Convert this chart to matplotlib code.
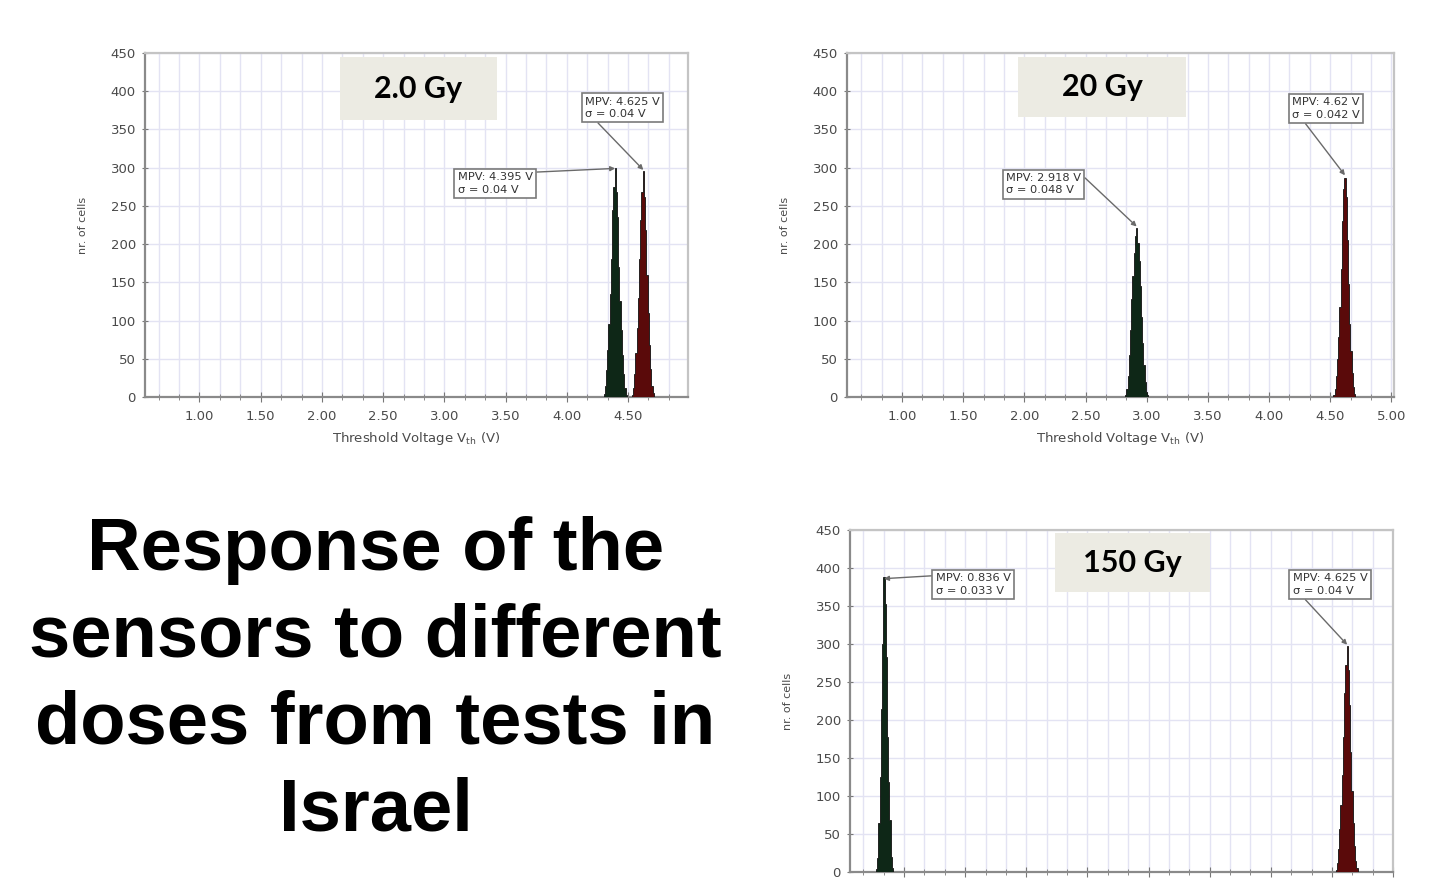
import numpy as np
import matplotlib.pyplot as plt
from matplotlib.patches import Rectangle
from matplotlib.ticker import MultipleLocator

# histogram bin width (V)
BIN_W = 0.01

# fitted most probable values and widths (V): [irradiated, reference]
mpv_2gy = [4.395, 4.625]
sigma_2gy = [0.04, 0.04]
mpv_20gy = [2.918, 4.62]
sigma_20gy = [0.048, 0.042]
mpv_150gy = [0.836, 4.625]
sigma_150gy = [0.033, 0.04]

# number of cells per 10 mV bin
irr_2gy = [4, 14, 35, 62, 95, 135, 180, 245, 275, 300, 268, 235, 170, 125, 88, 55, 30, 12, 3]
ref_2gy = [3, 12, 30, 58, 90, 130, 180, 232, 268, 295, 262, 218, 160, 110, 68, 36, 15, 5]
irr_20gy = [3, 10, 28, 55, 88, 128, 158, 188, 210, 221, 202, 178, 145, 105, 70, 42, 20, 7, 2]
ref_20gy = [3, 11, 28, 50, 78, 118, 168, 230, 272, 287, 262, 205, 148, 96, 60, 32, 13, 4]
irr_150gy = [4, 18, 65, 125, 215, 300, 388, 352, 283, 178, 118, 68, 20, 5]
ref_150gy = [3, 12, 30, 56, 88, 128, 178, 236, 272, 297, 266, 220, 158, 106, 64, 34, 15, 5]

doses = ['2.0 Gy', '20 Gy', '150 Gy']

IRR_COLOR = '#0e2717'
REF_COLOR = '#5a0a0a'
GRID_COLOR = '#e3e3f3'
TEXT_COLOR = '#4a4a4a'


def bin_edges(counts, mpv):
    # centre the highest bin on the fitted MPV
    peak = int(np.argmax(counts))
    return mpv - BIN_W / 2 + (np.arange(len(counts) + 1) - peak) * BIN_W


def draw_panel(ax, xlim, hists, notes, dose, dose_box, show_xlabels=True):
    ax.set_xlim(*xlim)
    ax.set_ylim(0, 450)

    ax.xaxis.set_major_locator(MultipleLocator(0.5))
    ax.xaxis.set_minor_locator(MultipleLocator(1 / 6))
    ax.yaxis.set_major_locator(MultipleLocator(50))
    ax.xaxis.set_major_formatter(lambda v, p: f'{v:.2f}')
    ax.grid(True, which='both', axis='x', color=GRID_COLOR, lw=1)
    ax.grid(True, which='major', axis='y', color=GRID_COLOR, lw=1)
    ax.set_axisbelow(True)

    ax.tick_params(axis='both', which='both', colors='#777', labelcolor=TEXT_COLOR,
                   labelsize=9.5, direction='inout')
    ax.tick_params(axis='x', which='major', length=7, pad=6)
    ax.tick_params(axis='x', which='minor', length=4)
    ax.tick_params(axis='y', which='major', length=5, pad=4)
    for side in ['left', 'bottom']:
        ax.spines[side].set_color('#8a8a8a')
        ax.spines[side].set_linewidth(1.6)
    for side in ['top', 'right']:
        ax.spines[side].set_color('#c4c4c4')
        ax.spines[side].set_linewidth(1.6)

    ax.set_ylabel('nr. of cells', fontsize=8, color=TEXT_COLOR)
    ax.yaxis.set_label_coords(-0.105, 0.5)
    if show_xlabels:
        ax.set_xlabel('Threshold Voltage V$_{\\mathrm{th}}$ (V)', fontsize=9.5, color=TEXT_COLOR)
        ax.xaxis.set_label_coords(0.5, -0.095)
    else:
        ax.tick_params(axis='x', labelbottom=False)

    # dose tag
    x0, y0, x1, y1 = dose_box
    ax.add_patch(Rectangle((x0, y0), x1 - x0, y1 - y0, transform=ax.transAxes,
                           facecolor='#ecebe3', edgecolor='none', zorder=1))
    ax.text((x0 + x1) / 2, (y0 + y1) / 2, dose, transform=ax.transAxes,
            ha='center', va='center', fontsize=22, family='Lato', weight='bold',
            color='black', zorder=2)

    for (counts, mpv, color) in hists:
        ax.stairs(counts, bin_edges(counts, mpv), fill=True, facecolor=color,
                  edgecolor='#111111', lw=0.6, zorder=3)

    for (mpv, sigma, tip, txt_pos, relpos) in notes:
        ax.annotate(f'MPV: {mpv:g} V\n\u03c3 = {sigma:g} V', xy=(mpv, tip), xytext=txt_pos,
                    ha='left', va='top', fontsize=8.2, color='#333333', linespacing=1.3,
                    bbox=dict(boxstyle='square,pad=0.3', fc='white', ec='#7a7a7a', lw=1.2),
                    arrowprops=dict(arrowstyle='-|>', color='#6a6a6a', lw=1, mutation_scale=7,
                                    shrinkA=0, shrinkB=0, relpos=relpos),
                    zorder=4)


fig = plt.figure(figsize=(14.5, 8.83), dpi=100)

ax1 = fig.add_axes([0.1, 0.5504, 0.3745, 0.3896])
draw_panel(ax1, (0.555, 4.99),
           [(irr_2gy, mpv_2gy[0], IRR_COLOR), (ref_2gy, mpv_2gy[1], REF_COLOR)],
           [(mpv_2gy[0], sigma_2gy[0], 299, (3.11, 294), (1, 1)),
            (mpv_2gy[1], sigma_2gy[1], 297, (4.15, 393), (0.12, 0))],
           doses[0], (0.359, 0.805, 0.648, 0.988))

ax2 = fig.add_axes([0.5841, 0.5504, 0.3772, 0.3896])
draw_panel(ax2, (0.55, 5.02),
           [(irr_20gy, mpv_20gy[0], IRR_COLOR), (ref_20gy, mpv_20gy[1], REF_COLOR)],
           [(mpv_20gy[0], sigma_20gy[0], 223, (1.85, 293), (1, 0.95)),
            (mpv_20gy[1], sigma_20gy[1], 290, (4.19, 392), (0.15, 0))],
           doses[1], (0.3126, 0.814, 0.62, 0.988))

ax3 = fig.add_axes([0.5862, 0.01246, 0.3745, 0.3873])
draw_panel(ax3, (0.558, 5.0),
           [(irr_150gy, mpv_150gy[0], IRR_COLOR), (ref_150gy, mpv_150gy[1], REF_COLOR)],
           [(mpv_150gy[0], sigma_150gy[0], 386, (1.26, 393), (0, 0.9)),
            (mpv_150gy[1], sigma_150gy[1], 299, (4.18, 393), (0.12, 0))],
           doses[2], (0.3775, 0.819, 0.663, 0.991), show_xlabels=False)

fig.text(0.259, 0.229, 'Response of the\nsensors to different\ndoses from tests in\nIsrael',
         ha='center', va='center', fontsize=53.5, family='Liberation Sans', weight='bold',
         linespacing=1.33, color='black')

fig.savefig('out.png', dpi=100)
